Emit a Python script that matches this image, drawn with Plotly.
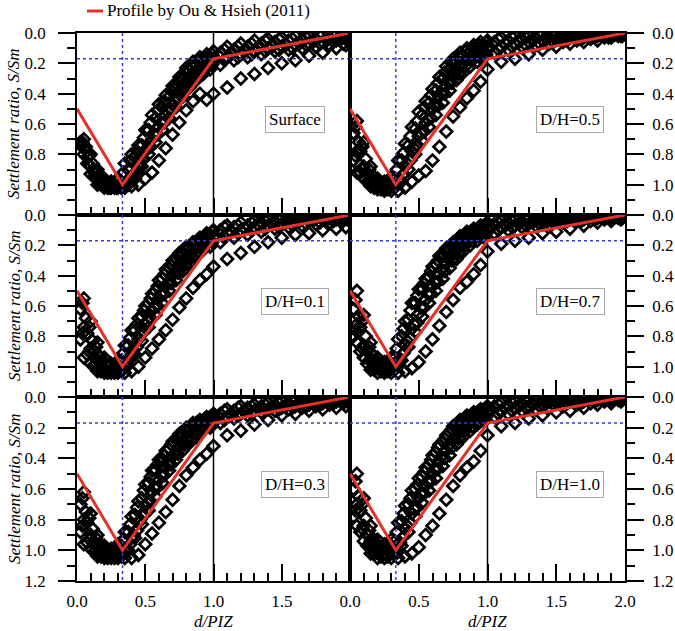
import plotly.graph_objects as go

# ---------------- data ----------------
XA = [0.05, 0.10, 0.15, 0.20, 0.25, 0.30, 0.35, 0.40, 0.45, 0.50, 0.55, 0.60, 0.65, 0.70, 0.75,
      0.80, 0.85, 0.90, 0.95, 1.00, 1.10, 1.20, 1.30, 1.40, 1.50, 1.60, 1.70, 1.80, 1.90, 1.97]
XB = [0.025, 0.075, 0.125, 0.175, 0.225, 0.275, 0.325, 0.375, 0.425, 0.475, 0.525, 0.575, 0.625,
      0.675, 0.725, 0.775, 0.825, 0.875, 0.925, 0.975, 1.05, 1.15, 1.25, 1.35, 1.45, 1.55, 1.65,
      1.75, 1.85, 1.95]
XC = [0.04, 0.09, 0.14, 0.19, 0.24, 0.29, 0.34, 0.39, 0.44, 0.49, 0.54, 0.59, 0.64, 0.69, 0.74,
      0.79, 0.84, 0.89, 0.94, 0.99, 1.08, 1.18, 1.28, 1.38, 1.48, 1.58, 1.68, 1.78, 1.88, 1.98]
XD = [0.065, 0.115, 0.165, 0.215, 0.265, 0.315, 0.365, 0.415, 0.465, 0.515, 0.565, 0.615, 0.665,
      0.715, 0.765, 0.815, 0.865, 0.915, 0.965, 1.015, 1.13, 1.23, 1.33, 1.43, 1.53, 1.63, 1.73,
      1.83, 1.93, 1.99]

panel_labels = ["Surface", "D/H=0.5", "D/H=0.1", "D/H=0.7", "D/H=0.3", "D/H=1.0"]

# Surface
surf_T = [0.70, 0.80, 0.90, 0.96, 0.98, 0.96, 0.86, 0.80, 0.74, 0.64, 0.54, 0.47, 0.41, 0.35, 0.29,
          0.23, 0.19, 0.16, 0.14, 0.12, 0.09, 0.07, 0.05, 0.04, 0.03, 0.02, 0.02, 0.01, 0.01, 0.01]
surf_T2 = [0.72, 0.81, 0.91, 0.97, 0.99, 0.98, 0.92, 0.84, 0.78, 0.69, 0.59, 0.51, 0.45, 0.38, 0.32,
           0.26, 0.22, 0.18, 0.16, 0.14, 0.11, 0.09, 0.07, 0.05, 0.04, 0.04, 0.03, 0.02, 0.02, 0.02]
surf_B = [0.74, 0.82, 0.92, 0.98, 1.00, 1.00, 0.98, 0.90, 0.82, 0.74, 0.64, 0.56, 0.49, 0.42, 0.36,
          0.30, 0.25, 0.21, 0.18, 0.16, 0.13, 0.11, 0.09, 0.07, 0.06, 0.05, 0.04, 0.04, 0.03, 0.03]
surf_B2 = [0.75, 0.86, 0.94, 0.99, 1.01, 1.01, 0.99, 0.93, 0.85, 0.76, 0.67, 0.59, 0.52, 0.45, 0.38,
           0.32, 0.27, 0.23, 0.20, 0.17, 0.14, 0.12, 0.10, 0.09, 0.08, 0.07, 0.06, 0.05, 0.04, 0.03]
surf_C = [0.76, 0.88, 0.96, 1.00, 1.01, 1.01, 1.00, 0.95, 0.88, 0.78, 0.70, 0.62, 0.54, 0.47, 0.40,
          0.34, 0.29, 0.25, 0.22, 0.19, 0.16, 0.14, 0.12, 0.10, 0.09, 0.08, 0.07, 0.06, 0.05, 0.04]
surf_C2 = [0.74, 0.87, 0.96, 1.00, 1.02, 1.02, 1.01, 0.97, 0.92, 0.83, 0.75, 0.67, 0.59, 0.51, 0.44,
           0.38, 0.32, 0.28, 0.24, 0.21, 0.18, 0.16, 0.14, 0.12, 0.11, 0.10, 0.08, 0.07, 0.06, 0.05]
surf_D = [0.72, 0.86, 0.95, 1.00, 1.02, 1.02, 1.02, 1.00, 0.96, 0.88, 0.80, 0.72, 0.64, 0.56, 0.49,
          0.42, 0.36, 0.31, 0.27, 0.24, 0.21, 0.18, 0.16, 0.14, 0.12, 0.11, 0.10, 0.09, 0.08, 0.07]
surf_L = [0.80, 0.93, 1.00, 1.02, 1.02, 1.02, 1.02, 1.01, 1.00, 0.96, 0.92, 0.84, 0.76, 0.67, 0.59,
          0.51, 0.45, 0.40, 0.44, 0.40, 0.36, 0.30, 0.27, 0.23, 0.20, 0.18, 0.15, 0.13, 0.10, 0.08]

# D/H = 0.5
dh05_T = [0.58, 0.72, 0.88, 0.96, 0.98, 0.95, 0.84, 0.73, 0.62, 0.52, 0.45, 0.37, 0.29, 0.22, 0.17,
          0.13, 0.10, 0.08, 0.06, 0.05, 0.03, 0.02, 0.02, 0.01, 0.01, 0.01, 0.00, 0.00, 0.00, 0.00]
dh05_T2 = [0.62, 0.75, 0.90, 0.97, 0.99, 0.98, 0.90, 0.79, 0.68, 0.58, 0.49, 0.41, 0.33, 0.26, 0.20,
           0.16, 0.12, 0.10, 0.08, 0.06, 0.04, 0.03, 0.03, 0.02, 0.02, 0.01, 0.01, 0.01, 0.00, 0.00]
dh05_B = [0.66, 0.78, 0.92, 0.98, 1.00, 1.00, 0.96, 0.84, 0.74, 0.63, 0.54, 0.46, 0.38, 0.30, 0.24,
          0.19, 0.15, 0.12, 0.10, 0.08, 0.06, 0.05, 0.04, 0.03, 0.03, 0.02, 0.02, 0.01, 0.01, 0.01]
dh05_B2 = [0.72, 0.83, 0.94, 0.99, 1.01, 1.01, 0.97, 0.86, 0.76, 0.66, 0.57, 0.48, 0.40, 0.33, 0.26,
           0.21, 0.17, 0.14, 0.11, 0.09, 0.07, 0.06, 0.05, 0.04, 0.03, 0.03, 0.02, 0.02, 0.01, 0.01]
dh05_C = [0.78, 0.88, 0.96, 1.00, 1.02, 1.01, 0.97, 0.88, 0.78, 0.68, 0.59, 0.50, 0.42, 0.35, 0.28,
          0.22, 0.18, 0.15, 0.13, 0.11, 0.09, 0.07, 0.06, 0.05, 0.04, 0.03, 0.03, 0.02, 0.02, 0.01]
dh05_C2 = [0.81, 0.90, 0.97, 1.01, 1.02, 1.02, 1.00, 0.93, 0.84, 0.74, 0.65, 0.56, 0.48, 0.40, 0.33,
           0.27, 0.22, 0.18, 0.16, 0.14, 0.11, 0.09, 0.08, 0.07, 0.06, 0.05, 0.04, 0.03, 0.03, 0.02]
dh05_D = [0.84, 0.92, 0.98, 1.02, 1.03, 1.03, 1.02, 0.98, 0.90, 0.80, 0.71, 0.62, 0.54, 0.46, 0.38,
          0.31, 0.26, 0.22, 0.19, 0.16, 0.13, 0.11, 0.09, 0.08, 0.07, 0.06, 0.05, 0.04, 0.03, 0.02]
dh05_L = [0.92, 0.96, 1.01, 1.03, 1.04, 1.04, 1.04, 1.02, 0.98, 0.94, 0.91, 0.84, 0.75, 0.65, 0.55,
          0.49, 0.43, 0.38, 0.32, 0.24, 0.19, 0.17, 0.14, 0.11, 0.09, 0.07, 0.06, 0.05, 0.03, 0.02]

# D/H = 0.1
dh01_T = [0.55, 0.70, 0.84, 0.94, 0.98, 0.96, 0.86, 0.76, 0.68, 0.60, 0.52, 0.43, 0.36, 0.30, 0.25,
          0.21, 0.18, 0.15, 0.12, 0.10, 0.07, 0.05, 0.04, 0.03, 0.02, 0.02, 0.01, 0.01, 0.00, 0.00]
dh01_T2 = [0.58, 0.74, 0.87, 0.96, 0.99, 0.98, 0.91, 0.81, 0.72, 0.63, 0.55, 0.47, 0.39, 0.33, 0.27,
           0.23, 0.19, 0.16, 0.14, 0.11, 0.08, 0.07, 0.05, 0.04, 0.03, 0.03, 0.02, 0.01, 0.01, 0.01]
dh01_B = [0.62, 0.78, 0.90, 0.97, 1.00, 1.00, 0.96, 0.86, 0.76, 0.67, 0.58, 0.50, 0.42, 0.35, 0.29,
          0.25, 0.21, 0.18, 0.15, 0.13, 0.10, 0.08, 0.07, 0.05, 0.04, 0.04, 0.03, 0.02, 0.02, 0.01]
dh01_B2 = [0.68, 0.83, 0.93, 0.99, 1.01, 1.01, 0.98, 0.89, 0.79, 0.70, 0.61, 0.52, 0.45, 0.38, 0.32,
           0.27, 0.23, 0.19, 0.16, 0.14, 0.11, 0.09, 0.07, 0.06, 0.05, 0.04, 0.04, 0.03, 0.02, 0.02]
dh01_C = [0.74, 0.88, 0.96, 1.01, 1.02, 1.02, 0.99, 0.92, 0.82, 0.72, 0.63, 0.55, 0.47, 0.40, 0.34,
          0.29, 0.24, 0.21, 0.18, 0.15, 0.12, 0.10, 0.08, 0.07, 0.06, 0.05, 0.04, 0.03, 0.03, 0.02]
dh01_C2 = [0.78, 0.90, 0.98, 1.02, 1.03, 1.03, 1.01, 0.95, 0.87, 0.77, 0.68, 0.60, 0.52, 0.45, 0.38,
           0.33, 0.28, 0.24, 0.20, 0.18, 0.15, 0.12, 0.10, 0.09, 0.08, 0.07, 0.06, 0.05, 0.04, 0.03]
dh01_D = [0.82, 0.92, 0.99, 1.03, 1.04, 1.04, 1.03, 0.99, 0.92, 0.83, 0.74, 0.66, 0.58, 0.50, 0.43,
          0.37, 0.32, 0.27, 0.23, 0.21, 0.18, 0.15, 0.13, 0.11, 0.09, 0.08, 0.07, 0.06, 0.05, 0.04]
dh01_L = [0.94, 0.98, 1.03, 1.04, 1.04, 1.04, 1.04, 1.03, 1.00, 0.94, 0.88, 0.82, 0.76, 0.69, 0.61,
          0.55, 0.48, 0.43, 0.39, 0.34, 0.29, 0.25, 0.21, 0.18, 0.15, 0.13, 0.12, 0.10, 0.09, 0.08]

# D/H = 0.7
dh07_T = [0.50, 0.66, 0.84, 0.94, 0.97, 0.94, 0.82, 0.70, 0.58, 0.49, 0.42, 0.34, 0.27, 0.22, 0.18,
          0.14, 0.11, 0.09, 0.07, 0.05, 0.04, 0.03, 0.02, 0.02, 0.01, 0.01, 0.01, 0.00, 0.00, 0.00]
dh07_T2 = [0.56, 0.70, 0.87, 0.96, 0.98, 0.97, 0.88, 0.75, 0.63, 0.53, 0.45, 0.37, 0.30, 0.24, 0.20,
           0.16, 0.12, 0.10, 0.08, 0.06, 0.05, 0.04, 0.03, 0.02, 0.02, 0.01, 0.01, 0.01, 0.00, 0.00]
dh07_B = [0.62, 0.74, 0.90, 0.97, 0.99, 0.99, 0.94, 0.80, 0.69, 0.58, 0.49, 0.41, 0.33, 0.27, 0.22,
          0.17, 0.14, 0.11, 0.09, 0.07, 0.06, 0.05, 0.04, 0.03, 0.03, 0.02, 0.02, 0.01, 0.01, 0.01]
dh07_B2 = [0.67, 0.80, 0.92, 0.98, 1.00, 1.00, 0.95, 0.83, 0.72, 0.61, 0.52, 0.44, 0.36, 0.29, 0.24,
           0.19, 0.15, 0.12, 0.10, 0.08, 0.07, 0.06, 0.05, 0.04, 0.03, 0.03, 0.02, 0.02, 0.01, 0.01]
dh07_C = [0.72, 0.86, 0.95, 1.00, 1.02, 1.01, 0.96, 0.86, 0.75, 0.65, 0.56, 0.47, 0.39, 0.32, 0.26,
          0.21, 0.17, 0.14, 0.12, 0.10, 0.08, 0.07, 0.06, 0.05, 0.04, 0.03, 0.03, 0.02, 0.02, 0.01]
dh07_C2 = [0.76, 0.88, 0.96, 1.01, 1.02, 1.02, 0.99, 0.91, 0.81, 0.71, 0.61, 0.52, 0.44, 0.37, 0.30,
           0.25, 0.20, 0.17, 0.14, 0.12, 0.10, 0.08, 0.07, 0.06, 0.05, 0.04, 0.04, 0.03, 0.02, 0.02]
dh07_D = [0.80, 0.90, 0.98, 1.02, 1.03, 1.03, 1.02, 0.96, 0.87, 0.77, 0.67, 0.58, 0.50, 0.42, 0.35,
          0.29, 0.24, 0.20, 0.17, 0.15, 0.12, 0.10, 0.08, 0.07, 0.06, 0.05, 0.04, 0.04, 0.03, 0.02]
dh07_L = [0.84, 0.94, 1.02, 1.04, 1.04, 1.04, 1.04, 1.03, 1.01, 0.97, 0.90, 0.82, 0.73, 0.64, 0.56,
          0.48, 0.44, 0.39, 0.33, 0.24, 0.19, 0.17, 0.15, 0.12, 0.11, 0.09, 0.07, 0.05, 0.04, 0.03]

# D/H = 0.3
dh03_T = [0.62, 0.76, 0.90, 0.97, 0.99, 0.96, 0.88, 0.78, 0.68, 0.57, 0.48, 0.41, 0.35, 0.29, 0.24,
          0.20, 0.17, 0.15, 0.13, 0.11, 0.08, 0.06, 0.05, 0.04, 0.03, 0.02, 0.02, 0.01, 0.01, 0.01]
dh03_T2 = [0.66, 0.79, 0.92, 0.98, 1.00, 0.99, 0.93, 0.83, 0.72, 0.61, 0.52, 0.44, 0.38, 0.31, 0.26,
           0.22, 0.18, 0.16, 0.14, 0.12, 0.09, 0.07, 0.06, 0.05, 0.04, 0.03, 0.02, 0.02, 0.01, 0.01]
dh03_B = [0.70, 0.82, 0.94, 0.99, 1.01, 1.01, 0.97, 0.88, 0.77, 0.66, 0.56, 0.48, 0.41, 0.34, 0.28,
          0.24, 0.20, 0.17, 0.15, 0.13, 0.11, 0.09, 0.07, 0.06, 0.05, 0.04, 0.03, 0.03, 0.02, 0.02]
dh03_B2 = [0.75, 0.86, 0.96, 1.01, 1.02, 1.02, 0.99, 0.90, 0.80, 0.69, 0.59, 0.51, 0.44, 0.37, 0.31,
           0.26, 0.22, 0.19, 0.16, 0.14, 0.12, 0.10, 0.08, 0.07, 0.06, 0.05, 0.04, 0.03, 0.03, 0.02]
dh03_C = [0.80, 0.90, 0.98, 1.02, 1.03, 1.03, 1.00, 0.92, 0.82, 0.71, 0.62, 0.54, 0.46, 0.39, 0.33,
          0.28, 0.24, 0.20, 0.18, 0.16, 0.13, 0.11, 0.09, 0.08, 0.07, 0.06, 0.05, 0.04, 0.03, 0.02]
dh03_C2 = [0.84, 0.93, 1.00, 1.03, 1.04, 1.04, 1.02, 0.96, 0.87, 0.77, 0.68, 0.59, 0.51, 0.44, 0.37,
           0.31, 0.27, 0.23, 0.20, 0.18, 0.15, 0.12, 0.11, 0.09, 0.08, 0.07, 0.06, 0.05, 0.04, 0.03]
dh03_D = [0.88, 0.95, 1.01, 1.04, 1.05, 1.05, 1.04, 1.00, 0.92, 0.83, 0.74, 0.65, 0.56, 0.48, 0.41,
          0.35, 0.30, 0.26, 0.22, 0.20, 0.17, 0.14, 0.12, 0.10, 0.09, 0.08, 0.07, 0.06, 0.05, 0.04]
dh03_L = [0.96, 0.99, 1.04, 1.05, 1.05, 1.05, 1.05, 1.05, 1.03, 0.96, 0.89, 0.82, 0.75, 0.67, 0.58,
          0.51, 0.46, 0.41, 0.37, 0.32, 0.25, 0.22, 0.18, 0.15, 0.12, 0.11, 0.09, 0.08, 0.07, 0.06]

# D/H = 1.0
dh10_T = [0.50, 0.66, 0.84, 0.93, 0.96, 0.93, 0.82, 0.71, 0.61, 0.53, 0.46, 0.38, 0.31, 0.25, 0.19,
          0.15, 0.12, 0.10, 0.08, 0.06, 0.04, 0.03, 0.02, 0.02, 0.01, 0.01, 0.01, 0.00, 0.00, 0.00]
dh10_T2 = [0.55, 0.70, 0.87, 0.95, 0.98, 0.96, 0.88, 0.76, 0.66, 0.57, 0.49, 0.41, 0.33, 0.27, 0.21,
           0.17, 0.13, 0.11, 0.09, 0.07, 0.05, 0.04, 0.03, 0.02, 0.02, 0.01, 0.01, 0.01, 0.00, 0.00]
dh10_B = [0.60, 0.74, 0.90, 0.97, 0.99, 0.99, 0.94, 0.81, 0.70, 0.60, 0.52, 0.44, 0.36, 0.29, 0.23,
          0.18, 0.15, 0.12, 0.10, 0.08, 0.06, 0.05, 0.04, 0.03, 0.03, 0.02, 0.02, 0.01, 0.01, 0.01]
dh10_B2 = [0.65, 0.79, 0.92, 0.98, 1.00, 1.00, 0.95, 0.84, 0.73, 0.63, 0.55, 0.47, 0.39, 0.32, 0.26,
           0.21, 0.17, 0.14, 0.11, 0.09, 0.07, 0.06, 0.05, 0.04, 0.03, 0.03, 0.02, 0.02, 0.01, 0.01]
dh10_C = [0.70, 0.84, 0.94, 1.00, 1.02, 1.01, 0.96, 0.86, 0.76, 0.66, 0.58, 0.50, 0.42, 0.35, 0.28,
          0.23, 0.19, 0.16, 0.13, 0.11, 0.09, 0.07, 0.06, 0.05, 0.04, 0.03, 0.03, 0.02, 0.02, 0.01]
dh10_C2 = [0.74, 0.86, 0.96, 1.01, 1.03, 1.02, 0.99, 0.91, 0.82, 0.72, 0.63, 0.55, 0.47, 0.40, 0.33,
           0.27, 0.22, 0.19, 0.16, 0.13, 0.11, 0.09, 0.07, 0.06, 0.05, 0.04, 0.04, 0.03, 0.02, 0.02]
dh10_D = [0.78, 0.88, 0.97, 1.02, 1.04, 1.04, 1.03, 0.97, 0.88, 0.78, 0.69, 0.61, 0.53, 0.45, 0.38,
          0.31, 0.26, 0.22, 0.18, 0.16, 0.13, 0.11, 0.09, 0.08, 0.07, 0.06, 0.05, 0.04, 0.03, 0.02]
dh10_L = [0.84, 0.94, 1.02, 1.05, 1.05, 1.05, 1.05, 1.04, 1.02, 0.98, 0.90, 0.84, 0.76, 0.67, 0.58,
          0.51, 0.46, 0.42, 0.35, 0.25, 0.19, 0.17, 0.14, 0.12, 0.10, 0.09, 0.07, 0.05, 0.04, 0.03]

panel_curves = [
    [surf_T, surf_T2, surf_B, surf_B2, surf_C, surf_C2, surf_D, surf_L],
    [dh05_T, dh05_T2, dh05_B, dh05_B2, dh05_C, dh05_C2, dh05_D, dh05_L],
    [dh01_T, dh01_T2, dh01_B, dh01_B2, dh01_C, dh01_C2, dh01_D, dh01_L],
    [dh07_T, dh07_T2, dh07_B, dh07_B2, dh07_C, dh07_C2, dh07_D, dh07_L],
    [dh03_T, dh03_T2, dh03_B, dh03_B2, dh03_C, dh03_C2, dh03_D, dh03_L],
    [dh10_T, dh10_T2, dh10_B, dh10_B2, dh10_C, dh10_C2, dh10_D, dh10_L],
]
curve_x = [XA, XC, XB, XD, XA, XC, XB, XA]

# Ou & Hsieh (2011) profile
profile_x = [0.0, 1 / 3, 1.0, 2.0]
profile_y = [0.5, 1.0, 0.17, 0.0]
peak_x = 1 / 3
break_x = 1.0
break_y = 0.17

x_ticks = [0.0, 0.5, 1.0, 1.5, 2.0]
x_minor = [0.1, 0.2, 0.3, 0.4, 0.6, 0.7, 0.8, 0.9, 1.1, 1.2, 1.3, 1.4, 1.6, 1.7, 1.8, 1.9]
y_ticks = [0.0, 0.2, 0.4, 0.6, 0.8, 1.0, 1.2]
y_minor = [0.1, 0.3, 0.5, 0.7, 0.9, 1.1]

# ---------------- layout geometry ----------------
W, H = 675, 631
col_px = [(77, 350), (350, 625)]
row_px = [(33, 215), (215, 397), (397, 581)]
FONT = "Liberation Serif, Times New Roman, serif"
RED = "#e4322b"
BLUE = "#3b3bd0"

fig = go.Figure()
layout = dict(
    width=W, height=H, margin=dict(l=0, r=0, t=0, b=0, pad=0, autoexpand=False),
    paper_bgcolor="white", plot_bgcolor="white", showlegend=False,
    font=dict(family=FONT, size=17, color="black"),
)
annotations = []

for i in range(6):
    r, c = divmod(i, 2)
    sfx = "" if i == 0 else str(i + 1)
    xa, ya = "x" + sfx, "y" + sfx
    xs, ys = [], []
    for cx, cy in zip(curve_x, panel_curves[i]):
        xs += cx
        ys += cy
    fig.add_trace(go.Scatter(
        x=xs, y=ys, mode="markers", xaxis=xa, yaxis=ya, cliponaxis=True,
        marker=dict(symbol="diamond-open", size=9, color="black", line=dict(width=2.7, color="black")),
    ))
    fig.add_trace(go.Scatter(x=[break_x, break_x], y=[0, 1.2], mode="lines", xaxis=xa, yaxis=ya,
                             line=dict(color="black", width=1.5)))
    fig.add_trace(go.Scatter(x=[peak_x, peak_x], y=[0, 1.2], mode="lines", xaxis=xa, yaxis=ya,
                             line=dict(color=BLUE, width=1.5, dash="3px,3px")))
    fig.add_trace(go.Scatter(x=[0, 2], y=[break_y, break_y], mode="lines", xaxis=xa, yaxis=ya,
                             line=dict(color=BLUE, width=1.5, dash="3px,3px")))
    fig.add_trace(go.Scatter(x=profile_x, y=profile_y, mode="lines", xaxis=xa, yaxis=ya,
                             line=dict(color=RED, width=3)))

    x0, x1 = col_px[c]
    y0, y1 = row_px[r]
    bottom = (r == 2)
    layout["xaxis" + sfx] = dict(
        domain=[x0 / W, x1 / W], anchor=ya, range=[0, 2], automargin=False,
        showline=True, linecolor="black", linewidth=1.5, mirror=True,
        ticks="inside", ticklen=17, tickwidth=1.5, tickcolor="black",
        tickvals=x_ticks,
        ticktext=["0.0", "0.5", "1.0", "1.5", "2.0" if c == 1 else ""],
        showticklabels=bottom, ticklabelstandoff=4,
        minor=dict(tickvals=x_minor, ticks="inside", ticklen=8, tickwidth=1.5, tickcolor="black", showgrid=False),
        showgrid=False, zeroline=False, tickfont=dict(size=17),
    )
    layout["yaxis" + sfx] = dict(
        domain=[1 - y1 / H, 1 - y0 / H], anchor=xa, range=[1.2, 0], automargin=False,
        side="left" if c == 0 else "right",
        showline=True, linecolor="black", linewidth=1.5, mirror=True,
        ticks="outside", ticklen=17, tickwidth=1.5, tickcolor="black",
        tickvals=y_ticks,
        ticktext=["0.0", "0.2", "0.4", "0.6", "0.8", "1.0", "1.2" if bottom else ""],
        ticklabelstandoff=9 if c == 0 else 5,
        minor=dict(tickvals=y_minor, ticks="outside", ticklen=8, tickwidth=1.5, tickcolor="black", showgrid=False),
        showgrid=False, zeroline=False, tickfont=dict(size=17),
    )
    annotations.append(dict(
        x=1.6, y=0.57, xref=xa, yref=ya, text=panel_labels[i], showarrow=False,
        font=dict(size=17, family=FONT), bgcolor="white", bordercolor="#a8a8a8",
        borderwidth=1, borderpad=3,
    ))
    if c == 0:
        annotations.append(dict(
            x=14 / W, y=1 - (y0 + y1) / 2 / H, xref="paper", yref="paper",
            text="<i>Settlement ratio, S/Sm</i>", textangle=-90, showarrow=False,
            font=dict(size=17, family=FONT), xanchor="center", yanchor="middle",
        ))
    if bottom:
        annotations.append(dict(
            x=(x0 + x1) / 2 / W, y=1 - 621 / H, xref="paper", yref="paper",
            text="<i>d/PIZ</i>", showarrow=False, font=dict(size=17, family=FONT),
            xanchor="center", yanchor="middle",
        ))

annotations.append(dict(
    x=105 / W, y=1 - 11 / H, xref="paper", yref="paper", text="Profile by Ou &amp; Hsieh (2011)",
    showarrow=False, xanchor="left", yanchor="middle", font=dict(size=17, family=FONT),
))
layout["shapes"] = [dict(type="line", xref="paper", yref="paper",
                         x0=87 / W, x1=103 / W, y0=1 - 11 / H, y1=1 - 11 / H,
                         line=dict(color=RED, width=3))]
layout["annotations"] = annotations
fig.update_layout(**layout)
fig.write_html("out.html")
